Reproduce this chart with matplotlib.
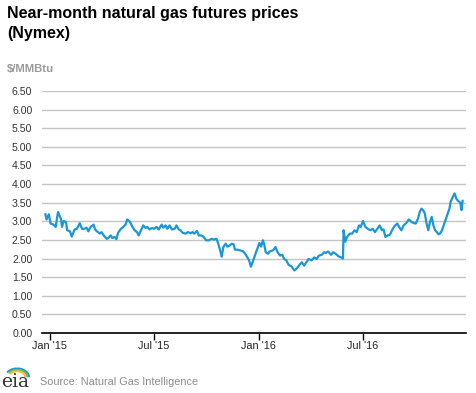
import matplotlib
matplotlib.use("Agg")
import matplotlib.pyplot as plt
from matplotlib.patches import Arc
import pandas as pd

# near-month Henry Hub futures, $/MMBtu
dates = [
    "2014-12-24", "2014-12-26", "2014-12-30", "2015-01-02", "2015-01-07", "2015-01-11",
    "2015-01-15", "2015-01-20", "2015-01-22", "2015-01-25", "2015-01-29", "2015-01-31",
    "2015-02-05", "2015-02-08", "2015-02-13", "2015-02-17", "2015-02-22", "2015-02-26",
    "2015-03-02", "2015-03-06", "2015-03-09", "2015-03-13", "2015-03-18", "2015-03-21",
    "2015-03-24", "2015-03-29", "2015-04-01", "2015-04-05", "2015-04-10", "2015-04-13",
    "2015-04-17", "2015-04-20", "2015-04-24", "2015-04-27", "2015-04-30", "2015-05-05",
    "2015-05-09", "2015-05-13", "2015-05-16", "2015-05-21", "2015-05-25", "2015-05-29",
    "2015-06-02", "2015-06-05", "2015-06-09", "2015-06-13", "2015-06-17", "2015-06-20",
    "2015-06-24", "2015-06-28", "2015-07-02", "2015-07-06", "2015-07-10", "2015-07-15",
    "2015-07-18", "2015-07-22", "2015-07-25", "2015-07-29", "2015-08-02", "2015-08-07",
    "2015-08-10", "2015-08-14", "2015-08-17", "2015-08-21", "2015-08-26", "2015-08-30",
    "2015-09-04", "2015-09-07", "2015-09-10", "2015-09-15", "2015-09-18", "2015-09-22",
    "2015-09-26", "2015-10-01", "2015-10-06", "2015-10-10", "2015-10-14", "2015-10-19",
    "2015-10-22", "2015-10-25", "2015-10-28", "2015-10-31", "2015-11-04", "2015-11-07",
    "2015-11-11", "2015-11-15", "2015-11-18", "2015-11-20", "2015-11-24", "2015-11-29",
    "2015-12-04", "2015-12-08", "2015-12-12", "2015-12-15", "2015-12-18", "2015-12-21",
    "2015-12-24", "2015-12-27", "2015-12-30", "2016-01-02", "2016-01-05", "2016-01-08",
    "2016-01-10", "2016-01-13", "2016-01-17", "2016-01-20", "2016-01-26", "2016-01-30",
    "2016-02-03", "2016-02-07", "2016-02-11", "2016-02-14", "2016-02-18", "2016-02-22",
    "2016-02-27", "2016-03-03", "2016-03-07", "2016-03-11", "2016-03-16", "2016-03-20",
    "2016-03-24", "2016-03-28", "2016-04-02", "2016-04-07", "2016-04-11", "2016-04-15",
    "2016-04-20", "2016-04-24", "2016-04-27", "2016-05-01", "2016-05-06", "2016-05-10",
    "2016-05-14", "2016-05-19", "2016-05-24", "2016-05-27", "2016-05-28", "2016-05-31",
    "2016-06-03", "2016-06-08", "2016-06-12", "2016-06-16", "2016-06-20", "2016-06-24",
    "2016-06-27", "2016-07-01", "2016-07-05", "2016-07-09", "2016-07-14", "2016-07-18",
    "2016-07-22", "2016-07-26", "2016-07-30", "2016-08-03", "2016-08-06", "2016-08-09",
    "2016-08-13", "2016-08-17", "2016-08-22", "2016-08-26", "2016-08-30", "2016-09-02",
    "2016-09-06", "2016-09-10", "2016-09-15", "2016-09-19", "2016-09-24", "2016-09-28",
    "2016-10-01", "2016-10-05", "2016-10-08", "2016-10-11", "2016-10-14", "2016-10-17",
    "2016-10-20", "2016-10-23", "2016-10-26", "2016-10-29", "2016-11-01", "2016-11-04",
    "2016-11-07", "2016-11-10", "2016-11-13", "2016-11-16", "2016-11-20", "2016-11-24",
    "2016-11-29", "2016-12-01", "2016-12-05", "2016-12-08", "2016-12-11", "2016-12-14",
    "2016-12-18", "2016-12-20", "2016-12-22",
]
prices = [
    3.19, 3.05, 3.19, 2.94, 2.91, 2.85,
    3.25, 3.07, 2.85, 3.01, 2.98, 2.76,
    2.73, 2.59, 2.78, 2.80, 2.95, 2.80,
    2.80, 2.83, 2.73, 2.85, 2.91, 2.78,
    2.73, 2.67, 2.71, 2.62, 2.53, 2.55,
    2.62, 2.55, 2.58, 2.52, 2.69, 2.80,
    2.85, 2.91, 3.05, 2.98, 2.85, 2.76,
    2.71, 2.62, 2.76, 2.89, 2.82, 2.85,
    2.78, 2.82, 2.80, 2.85, 2.78, 2.91,
    2.83, 2.89, 2.80, 2.89, 2.78, 2.80,
    2.89, 2.78, 2.76, 2.69, 2.67, 2.71,
    2.68, 2.71, 2.67, 2.74, 2.62, 2.62,
    2.59, 2.49, 2.49, 2.53, 2.51, 2.53,
    2.40, 2.24, 2.05, 2.31, 2.40, 2.32,
    2.35, 2.40, 2.38, 2.24, 2.24, 2.22,
    2.20, 2.13, 2.03, 1.95, 1.78, 1.90,
    2.03, 2.17, 2.29, 2.42, 2.32, 2.49,
    2.40, 2.17, 2.13, 2.19, 2.22, 2.31,
    2.16, 2.08, 2.10, 1.99, 1.95, 1.83,
    1.79, 1.68, 1.73, 1.81, 1.90, 1.81,
    1.90, 1.99, 1.95, 2.03, 1.99, 2.08,
    2.10, 2.17, 2.15, 2.19, 2.10, 2.17,
    2.13, 2.06, 2.03, 2.00, 2.76, 2.45,
    2.58, 2.67, 2.67, 2.76, 2.71, 2.89,
    2.85, 3.01, 2.85, 2.80, 2.76, 2.80,
    2.71, 2.80, 2.89, 2.76, 2.78, 2.58,
    2.62, 2.64, 2.80, 2.89, 2.94, 2.85,
    2.76, 2.89, 2.96, 3.05, 2.98, 2.95,
    2.94, 3.07, 3.25, 3.34, 3.30, 3.21,
    2.94, 2.76, 2.98, 3.12, 2.89, 2.76,
    2.71, 2.65, 2.68, 2.76, 2.94, 3.12,
    3.34, 3.52, 3.66, 3.75, 3.61, 3.55,
    3.50, 3.30, 3.55,
]
y_ticks = [0, 0.5, 1, 1.5, 2, 2.5, 3, 3.5, 4, 4.5, 5, 5.5, 6, 6.5]
x_ticks = ["2015-01-01", "2015-07-01", "2016-01-01", "2016-07-01"]
x_labels = ["Jan '15", "Jul '15", "Jan '16", "Jul '16"]

plt.rcParams['font.family'] = ['Liberation Sans', 'DejaVu Sans']

fig = plt.figure(figsize=(4.77, 3.93), dpi=100)
ax = fig.add_axes([0.088, 0.1527, 0.889, 0.6157])

ax.plot(pd.to_datetime(dates), prices, color='#1b97d6', linewidth=1.6, zorder=3)

ax.set_ylim(0, 6.5)
ax.set_xlim(pd.Timestamp("2014-12-18"), pd.Timestamp("2016-12-28"))
ax.set_yticks(y_ticks)
ax.set_yticklabels([f"{v:.2f}" for v in y_ticks], fontsize=7.6, color='#333333')
ax.set_xticks(pd.to_datetime(x_ticks))
ax.set_xticklabels(x_labels, fontsize=7.8, color='#222222')

ax.grid(axis='y', color='#c4c4c4', linewidth=1.0)
ax.set_axisbelow(True)
for side in ['left', 'right', 'top']:
    ax.spines[side].set_visible(False)
ax.spines['bottom'].set_color('black')
ax.spines['bottom'].set_linewidth(1.2)
ax.tick_params(axis='y', length=0, pad=7)
ax.tick_params(axis='x', length=5, width=1, color='black', pad=1)

fig.text(0.015, 0.985, "Near-month natural gas futures prices\n(Nymex)",
         fontsize=11.5, fontweight='bold', color='black', va='top', ha='left',
         linespacing=1.4)
fig.text(0.015, 0.825, "$/MMBtu", fontsize=8.2, fontweight='bold', color='#9a9a9a',
         va='center', ha='left')
fig.text(0.083, 0.029, "Source: Natural Gas Intelligence", fontsize=7.8, color='#8c8c8c',
         va='center', ha='left')

# eia logo
fig.text(0.002, 0.004, "eia", fontsize=13.5, family='DejaVu Serif', color='#333333',
         va='bottom', ha='left')
for w, col in [(0.050, '#1b97d6'), (0.042, '#7bbf3f'), (0.034, '#f2c12e')]:
    fig.add_artist(Arc((0.036, 0.040), w, w * 0.9, theta1=0, theta2=150,
                       transform=fig.transFigure, color=col, linewidth=1.4))

fig.savefig("out.png", dpi=100)
